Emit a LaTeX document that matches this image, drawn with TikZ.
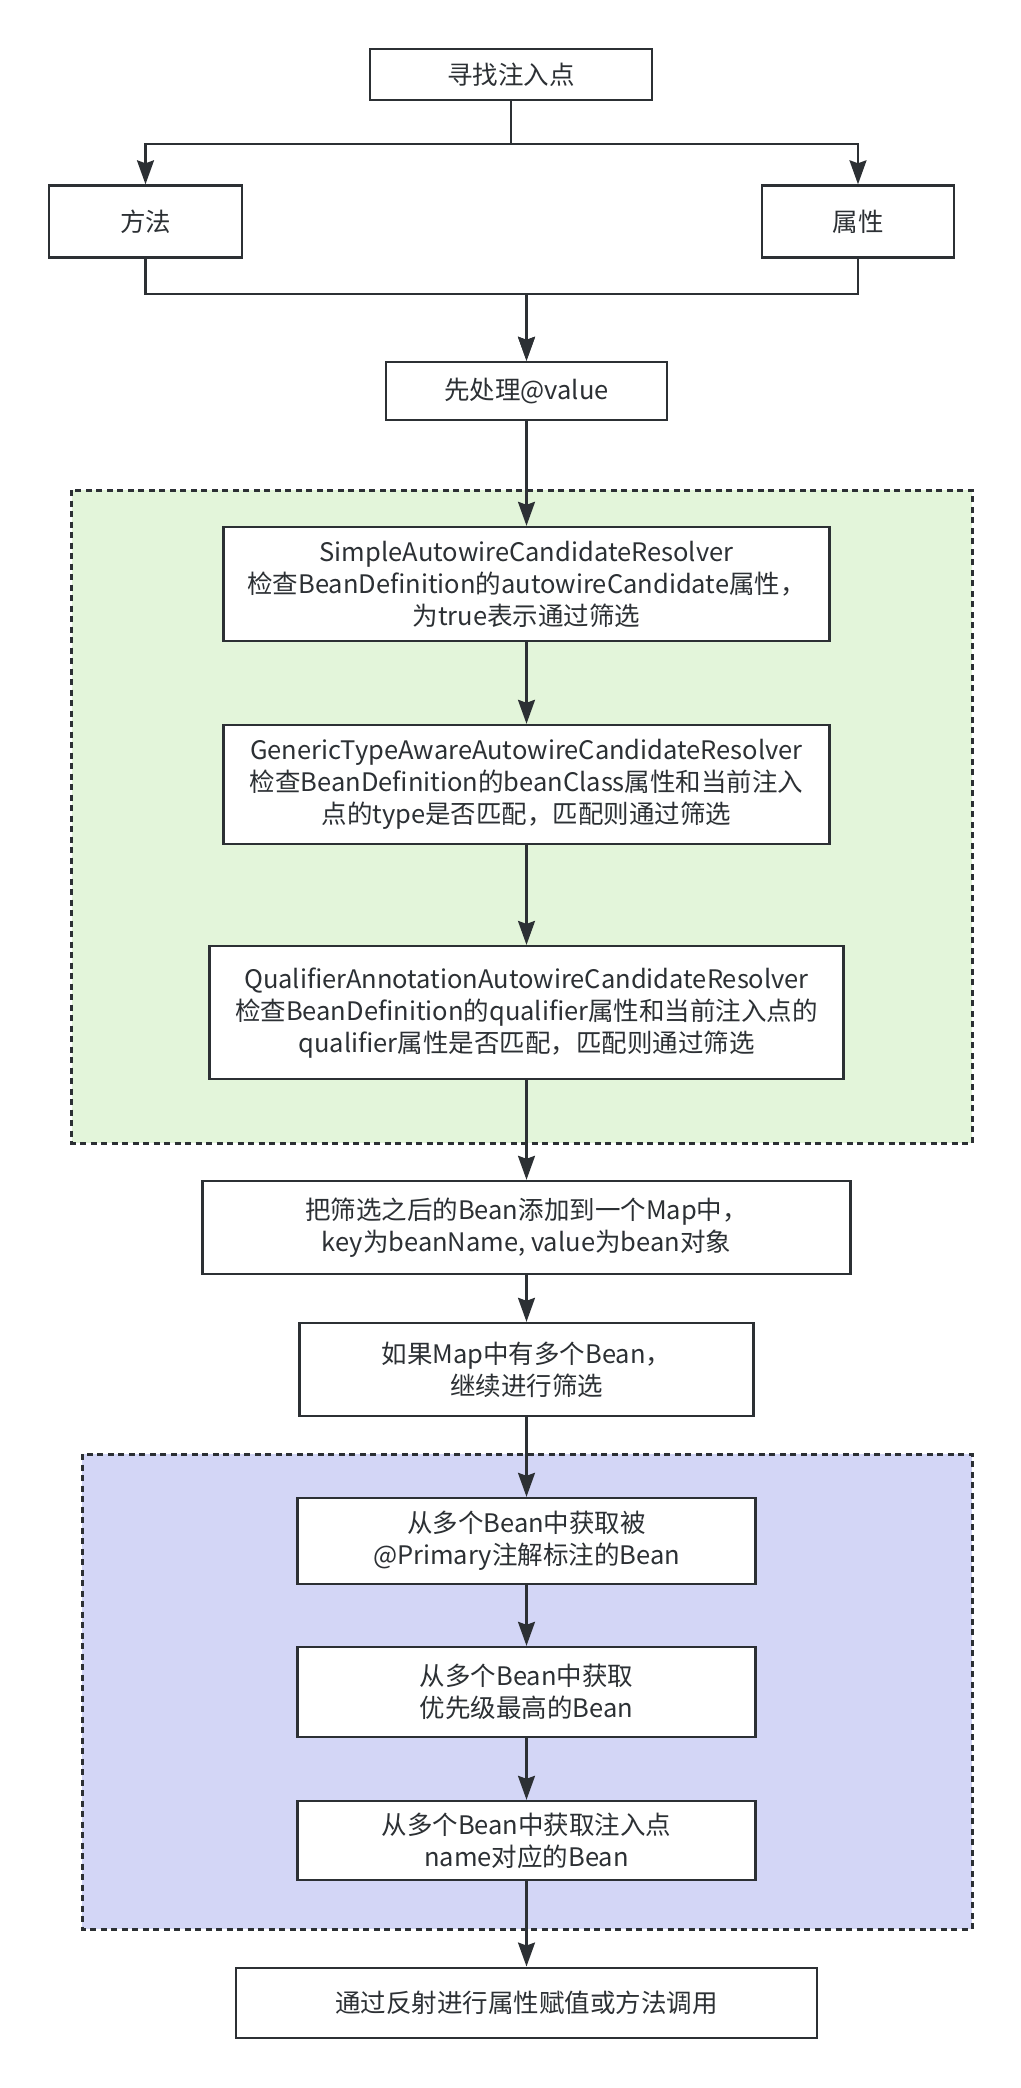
\documentclass[tikz,border=0pt]{standalone}
\usepackage{fontspec}
\setmainfont{Noto Sans CJK SC}
\usetikzlibrary{arrows.meta}
\definecolor{ink}{RGB}{44,48,52}
\definecolor{greenfill}{RGB}{227,245,218}
\definecolor{bluefill}{RGB}{211,214,246}
\begin{document}
\begin{tikzpicture}[x=1pt,y=-1pt,
  box/.style={draw=ink,line width=2.4pt,fill=white,inner sep=0pt,align=center,text=ink,
    font=\fontsize{25.5}{32}\selectfont},
  arr/.style={draw=ink,line width=2.2pt,-{Stealth[length=24pt,width=17pt,inset=3pt]}},
  grp/.style={draw=ink,line width=3pt,dash pattern=on 6pt off 4.5pt}]
\useasboundingbox (0,0) rectangle (1020,2088);
% groups
\fill[greenfill] (71.5,490) rectangle (972,1143);
\draw[grp] (71.5,490) rectangle (972,1143);
\fill[bluefill] (82,1454) rectangle (972,1929);
\draw[grp] (82,1454) rectangle (972,1929);
% nodes
\node[box,minimum width=282pt,minimum height=51pt] (top) at (511,74.5) {寻找注入点};
\node[box,minimum width=193pt,minimum height=72pt] (m) at (145.5,221.5) {方法};
\node[box,minimum width=192pt,minimum height=72pt] (p) at (858,221.5) {属性};
\node[box,minimum width=281pt,minimum height=58pt] (v) at (526.5,391) {先处理@value};
\node[box,minimum width=606pt,minimum height=114pt] (r1) at (526.5,584) {SimpleAutowireCandidateResolver\\检查BeanDefinition的autowireCandidate属性，\\为true表示通过筛选};
\node[box,minimum width=606pt,minimum height=119pt] (r2) at (526.5,784.5) {GenericTypeAwareAutowireCandidateResolver\\检查BeanDefinition的beanClass属性和当前注入\\点的type是否匹配，匹配则通过筛选};
\node[box,minimum width=634pt,minimum height=133pt] (r3) at (526.5,1012.6) {QualifierAnnotationAutowireCandidateResolver\\检查BeanDefinition的qualifier属性和当前注入点的\\qualifier属性是否匹配，匹配则通过筛选};
\node[box,minimum width=648pt,minimum height=93pt] (map) at (526.5,1227.5) {把筛选之后的Bean添加到一个Map中，\\key为beanName, value为bean对象};
\node[box,minimum width=454pt,minimum height=93pt] (multi) at (526.5,1369.5) {如果Map中有多个Bean，\\继续进行筛选};
\node[box,minimum width=458pt,minimum height=86pt] (b1) at (526.5,1541) {从多个Bean中获取被\\@Primary注解标注的Bean};
\node[box,minimum width=458pt,minimum height=90pt] (b2) at (526.5,1692) {从多个Bean中获取\\优先级最高的Bean};
\node[box,minimum width=458pt,minimum height=79pt] (b3) at (526.5,1840.5) {从多个Bean中获取注入点\\name对应的Bean};
\node[box,minimum width=581pt,minimum height=70pt] (fin) at (526.5,2002.7) {通过反射进行属性赋值或方法调用};
% connectors
\draw[arr] (top.south) -- ++(0,43) -| (m.north);
\draw[arr] (top.south) -- ++(0,43) -| (p.north);
\draw[arr] (m.south) -- ++(0,35.5) -| (v.north);
\draw[arr] (p.south) -- ++(0,35.5) -| (v.north);
\draw[arr] (v.south) -- (r1.north);
\draw[arr] (r1.south) -- (r2.north);
\draw[arr] (r2.south) -- (r3.north);
\draw[arr] (r3.south) -- (map.north);
\draw[arr] (map.south) -- (multi.north);
\draw[arr] (multi.south) -- (b1.north);
\draw[arr] (b1.south) -- (b2.north);
\draw[arr] (b2.south) -- (b3.north);
\draw[arr] (b3.south) -- (fin.north);
\end{tikzpicture}
\end{document}
